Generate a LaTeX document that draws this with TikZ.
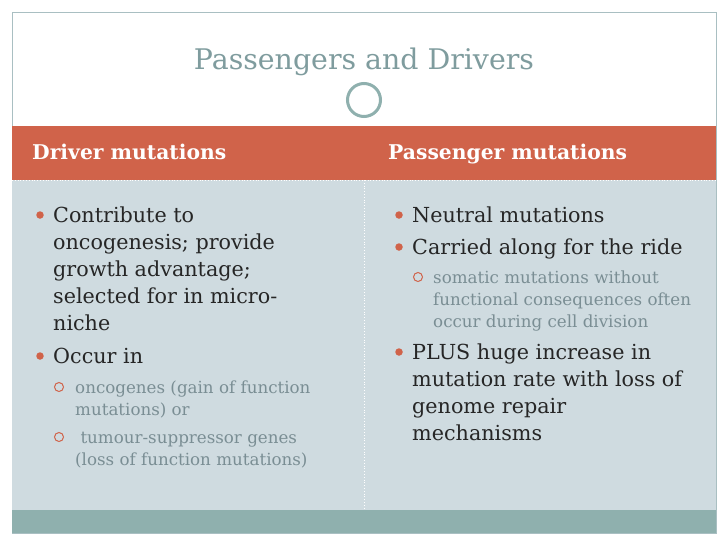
\documentclass[tikz,border=0pt]{standalone}
\usepackage{fontspec}
\setmainfont{DejaVu Serif}
\definecolor{hdr}{HTML}{D0634A}
\definecolor{bodybg}{HTML}{CFDBE0}
\definecolor{band}{HTML}{8FB0AE}
\definecolor{ttl}{HTML}{7F9C9E}
\definecolor{subtx}{HTML}{7A8E94}
\definecolor{frame}{HTML}{A9BFC2}
\begin{document}
\begin{tikzpicture}[x=1pt,y=-1pt,
  l1/.style={anchor=base west,inner sep=0pt,font=\fontsize{20.7}{24}\selectfont,text=black!85},
  l2/.style={anchor=base west,inner sep=0pt,font=\fontsize{16.7}{19}\selectfont,text=subtx},
  hd/.style={anchor=base west,inner sep=0pt,font=\bfseries\fontsize{20.3}{23}\selectfont,text=white},
  dot/.style={circle,fill=hdr,inner sep=0pt,minimum size=7.5pt},
  odot/.style={circle,draw=hdr,line width=1pt,inner sep=0pt,minimum size=9pt}]
\useasboundingbox (0,0) rectangle (728,546);
\fill[white] (0,0) rectangle (728,546);
\draw[frame,line width=0.8pt] (12,12) rectangle (716,533);
\fill[hdr] (12,126) rectangle (716,180);
\fill[bodybg] (12,180) rectangle (716,510);
\fill[band] (12,510) rectangle (716,533);
\draw[white,dotted,line width=0.8pt] (12,180) -- (716,180);
\draw[white,dotted,line width=0.8pt] (364,180) -- (364,510);
\node[circle,fill=white,minimum size=46pt,inner sep=0pt] (cw) at (364,100) {};
\node[circle,draw=band,line width=3pt,minimum size=33pt,inner sep=0pt] (c) at (364,100) {};
\node[anchor=base,inner sep=0pt,font=\fontsize{28.4}{32}\selectfont,text=ttl] (title) at (364,69) {Passengers and Drivers};
\node[hd] (h1) at (32,159) {Driver mutations};
\node[hd] (h2) at (388,159) {Passenger mutations};
% left column
\node[dot] (b1) at (40,215) {};
\node[l1] (a1) at (53,222) {Contribute to};
\node[l1] (a2) at (53,249) {oncogenesis; provide};
\node[l1] (a3) at (53,276) {growth advantage;};
\node[l1] (a4) at (53,303) {selected for in micro-};
\node[l1] (a5) at (53,330) {niche};
\node[dot] (b2) at (40,356) {};
\node[l1] (a6) at (53,363) {Occur in};
\node[odot] (s1) at (59,387) {};
\node[l2] (a7) at (75,393) {oncogenes (gain of function};
\node[l2] (a8) at (75,415) {mutations) or};
\node[odot] (s2) at (59,437) {};
\node[l2] (a9) at (75,443) {\ tumour-suppressor genes};
\node[l2] (a10) at (75,465) {(loss of function mutations)};
% right column
\node[dot] (b3) at (399,215) {};
\node[l1] (r1) at (412,222) {Neutral mutations};
\node[dot] (b4) at (399,247) {};
\node[l1] (r2) at (412,254) {Carried along for the ride};
\node[odot] (s3) at (418,277) {};
\node[l2] (r3) at (433,283) {somatic mutations without};
\node[l2] (r4) at (433,305) {functional consequences often};
\node[l2] (r5) at (433,327) {occur during cell division};
\node[dot] (b5) at (399,352) {};
\node[l1] (r6) at (412,359) {PLUS huge increase in};
\node[l1] (r7) at (412,386) {mutation rate with loss of};
\node[l1] (r8) at (412,413) {genome repair};
\node[l1] (r9) at (412,440) {mechanisms};
\end{tikzpicture}
\end{document}
